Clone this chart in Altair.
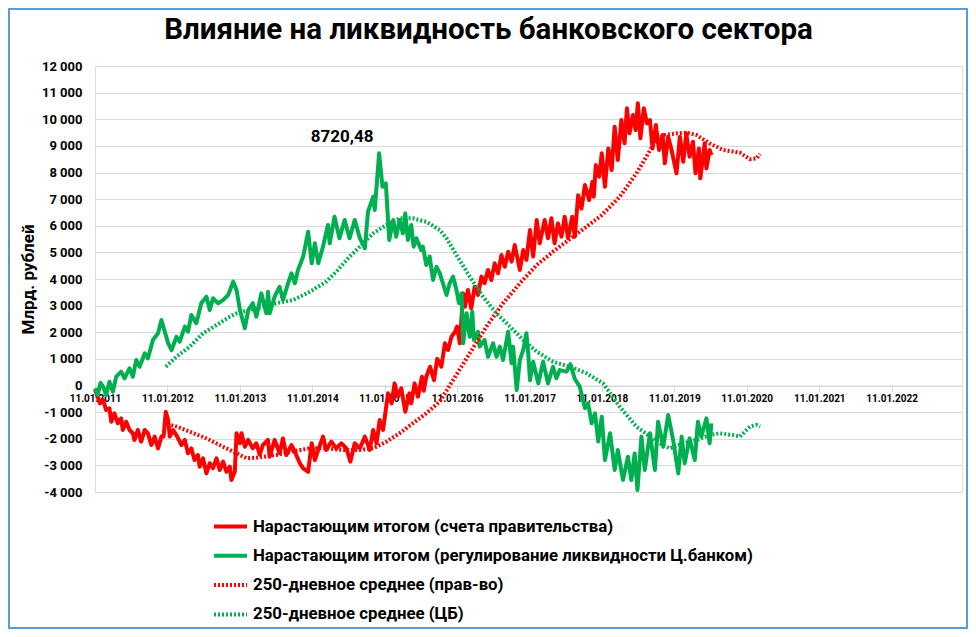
import altair as alt
import pandas as pd

FONT = "Roboto"

SERIES = [
    "Нарастающим итогом (счета правительства)",
    "Нарастающим итогом (регулирование ликвидности Ц.банком)",
    "250-дневное среднее (прав-во)",
    "250-дневное среднее (ЦБ)",
]
COLORS = ["#FF0000", "#00B050", "#FF0000", "#00B050"]
DASHES = [[1, 0], [1, 0], [2, 2], [2, 2]]
WIDTHS = [4, 4, 1.6, 1.6]

# --- Government accounts, cumulative (bn rub) ---
gov_dates = [
    "2011-01-11", "2011-02-05", "2011-02-21", "2011-03-08", "2011-03-25", "2011-04-03", "2011-04-19",
    "2011-05-06", "2011-05-23", "2011-05-31", "2011-06-17", "2011-07-04", "2011-07-21", "2011-07-29",
    "2011-08-15", "2011-09-01", "2011-09-19", "2011-10-05", "2011-10-22", "2011-11-08", "2011-11-25",
    "2011-12-12", "2011-12-23", "2012-01-03", "2012-01-15", "2012-01-23", "2012-02-09", "2012-03-01",
    "2012-03-22", "2012-04-08", "2012-04-24", "2012-05-11", "2012-05-27", "2012-06-13", "2012-06-22",
    "2012-07-09", "2012-07-26", "2012-08-12", "2012-08-28", "2012-09-15", "2012-10-01", "2012-10-18",
    "2012-11-04", "2012-11-21", "2012-11-29", "2012-12-16", "2012-12-25", "2013-01-11", "2013-01-19",
    "2013-02-05", "2013-02-22", "2013-03-17", "2013-04-04", "2013-04-21", "2013-05-07", "2013-05-15",
    "2013-06-01", "2013-06-10", "2013-07-05", "2013-07-30", "2013-08-16", "2013-09-02", "2013-09-28",
    "2013-10-15", "2013-11-09", "2013-11-26", "2013-12-21", "2014-01-08", "2014-01-24", "2014-02-10",
    "2014-03-06", "2014-03-22", "2014-04-17", "2014-05-12", "2014-06-07", "2014-07-02", "2014-07-22",
    "2014-08-13", "2014-09-08", "2014-10-03", "2014-10-28", "2014-11-14", "2014-12-01", "2014-12-17",
    "2015-01-03", "2015-01-28", "2015-02-15", "2015-03-02", "2015-03-19", "2015-04-05", "2015-04-25",
    "2015-05-16", "2015-05-25", "2015-06-11", "2015-06-28", "2015-07-18", "2015-07-27", "2015-08-09",
    "2015-08-28", "2015-09-17", "2015-10-03", "2015-10-24", "2015-11-11", "2015-11-27", "2015-12-14",
    "2016-01-01", "2016-01-11", "2016-01-25", "2016-02-03", "2016-02-11", "2016-02-20", "2016-03-06",
    "2016-03-23", "2016-04-09", "2016-04-26", "2016-05-13", "2016-05-29", "2016-06-15", "2016-07-02",
    "2016-07-19", "2016-08-05", "2016-08-22", "2016-09-08", "2016-09-25", "2016-10-12", "2016-10-28",
    "2016-11-23", "2016-12-10", "2016-12-26", "2017-01-13", "2017-01-29", "2017-02-16", "2017-03-03",
    "2017-03-28", "2017-04-14", "2017-05-01", "2017-05-17", "2017-06-03", "2017-06-21", "2017-07-07",
    "2017-07-24", "2017-08-14", "2017-08-27", "2017-09-13", "2017-09-30", "2017-10-17", "2017-11-07",
    "2017-11-24", "2017-12-01", "2017-12-11", "2017-12-28", "2018-01-10", "2018-01-26", "2018-02-12",
    "2018-03-01", "2018-03-16", "2018-04-01", "2018-04-19", "2018-05-05", "2018-05-17", "2018-05-30",
    "2018-06-16", "2018-06-30", "2018-07-11", "2018-07-24", "2018-08-10", "2018-08-26", "2018-09-10",
    "2018-09-23", "2018-10-10", "2018-10-26", "2018-11-13", "2018-11-24", "2018-12-11", "2018-12-28",
    "2019-01-22", "2019-02-08", "2019-02-25", "2019-03-12", "2019-03-29", "2019-04-15", "2019-04-28",
    "2019-05-15", "2019-05-22", "2019-06-13", "2019-06-22", "2019-07-08", "2019-07-17",
]
gov_values = [
    -150, -670, -545, -920, -860, -1360, -1045,
    -1420, -1235, -1670, -1360, -1670, -1795, -2045,
    -1670, -2110, -1670, -1795, -2235, -1920, -2360,
    -1920, -1920, -985, -1295, -1920, -1670, -1920,
    -2235, -2045, -2545, -2360, -2800, -2610, -3050,
    -2735, -3300, -2920, -3110, -2735, -3175, -2860,
    -3240, -3050, -3550, -3240, -1795, -2170, -1795,
    -2300, -2045, -2360, -2170, -2600, -2235, -2170,
    -2045, -2675, -2045, -2545, -1985, -2610, -2235,
    -2485, -2920, -3110, -3240, -2170, -2800, -2420,
    -1920, -2420, -2110, -2360, -2170, -2360, -2860,
    -2170, -2360, -1920, -2420, -1670, -2170, -1295,
    -1670, -295, -670, 80, -420, -105, -985,
    -295, -670, 80, -420, 330, -200, 330,
    705, 200, 1000, 705, 1585, 1335, 1830,
    2020, 2210, 1585, 2585, 3460, 2960, 3590,
    2900, 3710, 3400, 4090, 3840, 4340, 3960,
    4590, 4215, 4900, 4460, 5025, 4650, 5275,
    4340, 5090, 4715, 5840, 4840, 6215, 5340,
    6215, 5530, 6280, 5340, 6090, 5590, 6340,
    5530, 6340, 5590, 7150, 6650, 7530, 6965,
    7650, 7090, 8280, 7840, 8720, 7465, 8905,
    8090, 9720, 8465, 9970, 9095, 10410, 9470,
    10160, 9595, 10600, 9285, 10410, 9845, 9970,
    8905, 9785, 8845, 9410, 8345, 9345, 8845,
    7970, 9345, 8405, 9470, 8590, 9155, 7970,
    8905, 7780, 9095, 8155, 8845, 8655,
]

# --- Central bank liquidity operations, cumulative (bn rub) ---
cb_dates = [
    "2011-01-11", "2011-01-25", "2011-02-08", "2011-02-21", "2011-03-08", "2011-03-25", "2011-04-11",
    "2011-04-28", "2011-05-23", "2011-06-09", "2011-07-04", "2011-07-21", "2011-08-07", "2011-08-24",
    "2011-09-19", "2011-10-05", "2011-10-30", "2011-11-25", "2011-12-12", "2012-01-15", "2012-02-01",
    "2012-02-26", "2012-03-13", "2012-04-08", "2012-04-24", "2012-05-11", "2012-06-05", "2012-06-30",
    "2012-07-26", "2012-08-12", "2012-08-28", "2012-09-23", "2012-10-18", "2012-11-13", "2012-12-08",
    "2012-12-25", "2013-01-11", "2013-02-05", "2013-02-22", "2013-03-17", "2013-04-04", "2013-04-29",
    "2013-05-24", "2013-06-02", "2013-06-10", "2013-07-05", "2013-07-30", "2013-08-16", "2013-09-11",
    "2013-09-28", "2013-10-15", "2013-10-31", "2013-11-26", "2013-12-21", "2014-01-08", "2014-01-24",
    "2014-02-10", "2014-03-06", "2014-03-31", "2014-04-09", "2014-05-03", "2014-05-28", "2014-06-23",
    "2014-07-18", "2014-08-13", "2014-09-08", "2014-10-03", "2014-10-19", "2014-11-14", "2014-11-22",
    "2014-12-14", "2014-12-31", "2015-01-17", "2015-02-03", "2015-02-23", "2015-03-10", "2015-03-27",
    "2015-04-13", "2015-04-25", "2015-05-08", "2015-05-25", "2015-06-06", "2015-06-20", "2015-07-14",
    "2015-07-23", "2015-08-09", "2015-08-26", "2015-09-12", "2015-09-29", "2015-10-16", "2015-11-01",
    "2015-11-19", "2015-12-05", "2015-12-22", "2016-01-08", "2016-01-21", "2016-02-03", "2016-02-11",
    "2016-02-28", "2016-03-15", "2016-03-28", "2016-04-05", "2016-04-26", "2016-05-04", "2016-05-29",
    "2016-06-15", "2016-07-11", "2016-07-28", "2016-08-14", "2016-08-30", "2016-09-25", "2016-10-12",
    "2016-10-20", "2016-11-07", "2016-11-23", "2016-12-10", "2016-12-26", "2017-01-04", "2017-01-13",
    "2017-01-29", "2017-02-24", "2017-03-20", "2017-04-14", "2017-05-09", "2017-05-26", "2017-06-12",
    "2017-07-16", "2017-08-05", "2017-08-27", "2017-09-21", "2017-10-17", "2017-11-02", "2017-11-20",
    "2017-12-07", "2017-12-23", "2018-01-10", "2018-01-26", "2018-02-21", "2018-03-16", "2018-04-01",
    "2018-04-27", "2018-05-22", "2018-06-08", "2018-06-25", "2018-07-09", "2018-07-29", "2018-08-15",
    "2018-09-10", "2018-10-05", "2018-10-21", "2018-11-16", "2018-12-11", "2019-01-05", "2019-01-31",
    "2019-02-17", "2019-03-04", "2019-03-29", "2019-04-24", "2019-05-10", "2019-05-27", "2019-06-22",
    "2019-07-08", "2019-07-17",
]
cb_values = [
    -100, -350, 100, -40, -360, 140, -230,
    330, 520, 270, 645, 330, 960, 705,
    1210, 1020, 1710, 1960, 2460, 1585, 1330,
    1830, 1645, 2210, 2020, 2650, 2335, 3090,
    3335, 2835, 3275, 3090, 3210, 3400, 3900,
    3590, 2835, 2150, 2835, 3090, 2585, 3460,
    2710, 3520, 2710, 3335, 3710, 3210, 3840,
    4215, 3840, 4340, 4840, 5775, 4590, 5340,
    4590, 5215, 6030, 5340, 6340, 5530, 6215,
    5530, 6215, 5530, 5155, 6530, 7090, 6590,
    8720, 7465, 7590, 5465, 6215, 5590, 6215,
    5715, 6465, 5465, 6030, 5215, 5530, 5090,
    5215, 4525, 4840, 3960, 4460, 4215, 3840,
    3400, 3840, 4090, 3590, 3090, 3460, 1585,
    2710, 1830, 2770, 1710, 2020, 1460, 1710,
    1080, 1585, 1080, 1460, 960, 2020, 835,
    1460, -170, 960, 1335, 1960, 1210, 200,
    895, 80, 895, 80, 705, 270, 580,
    520, 800, 250, -45, -850, -670, -1420,
    -1045, -2100, -1170, -2800, -1795, -3175, -2420,
    -3550, -2675, -3550, -2550, -3925, -1920, -3175,
    -1795, -3175, -1360, -2300, -1110, -2045, -3300,
    -1920, -2920, -1985, -2800, -1360, -1920, -1235,
    -2170, -1420,
]

# --- 250-day moving average, government ---
gov_ma_dates = [
    "2012-01-11", "2012-03-01", "2012-05-03", "2012-07-26", "2012-10-18", "2012-12-25", "2013-02-14",
    "2013-04-21", "2013-07-14", "2013-10-06", "2013-12-30", "2014-03-22", "2014-06-14", "2014-09-08",
    "2014-11-14", "2015-01-20", "2015-03-27", "2015-06-02", "2015-08-09", "2015-10-16", "2015-12-22",
    "2016-03-15", "2016-06-07", "2016-08-30", "2016-11-23", "2017-02-16", "2017-05-09", "2017-08-02",
    "2017-10-25", "2018-01-10", "2018-04-11", "2018-07-04", "2018-08-23", "2018-09-26", "2018-11-16",
    "2019-01-22", "2019-03-12", "2019-05-02", "2019-07-08", "2019-09-14", "2019-12-08", "2020-01-27",
    "2020-03-01", "2020-03-18",
]
gov_ma_values = [
    -1450, -1545, -1735, -1985, -2300, -2545, -2735,
    -2700, -2610, -2470, -2360, -2360, -2420, -2420,
    -2360, -2110, -1795, -1420, -1045, -600, 200,
    1210, 2210, 3090, 3840, 4525, 5025, 5500,
    5965, 6400, 7090, 7970, 8590, 9030, 9410,
    9470, 9495, 9410, 9095, 8845, 8745, 8500,
    8530, 8700,
]

# --- 250-day moving average, central bank ---
cb_ma_dates = [
    "2012-01-03", "2012-02-26", "2012-05-03", "2012-07-09", "2012-09-15", "2012-11-21", "2012-12-25",
    "2013-04-04", "2013-07-14", "2013-10-06", "2013-12-30", "2014-03-22", "2014-05-12", "2014-07-18",
    "2014-09-08", "2014-11-14", "2015-01-20", "2015-03-27", "2015-06-02", "2015-08-09", "2015-10-16",
    "2015-11-19", "2016-01-08", "2016-03-15", "2016-05-21", "2016-07-28", "2016-10-04", "2016-12-10",
    "2017-02-16", "2017-05-09", "2017-08-02", "2017-10-25", "2018-01-17", "2018-04-11", "2018-07-04",
    "2018-09-10", "2018-10-30", "2018-12-19", "2019-02-25", "2019-05-02", "2019-07-08", "2019-08-28",
    "2019-11-03", "2019-12-08", "2020-01-27", "2020-03-01", "2020-03-18",
]
cb_ma_values = [
    705, 1080, 1460, 1960, 2270, 2585, 2710,
    2900, 3090, 3210, 3520, 3900, 4275, 4840,
    5215, 5715, 6030, 6280, 6280, 6150, 5840,
    5530, 4900, 4090, 3335, 2710, 2210, 1710,
    1270, 895, 705, 460, 80, -800, -1545,
    -1920, -2170, -2360, -2170, -2045, -1860, -1795,
    -1860, -1920, -1545, -1480, -1550,
]

peak_date = ["2014-12-14"]
peak_value = [8720.48]
peak_label = ["8720,48"]

frames = []
for name, d, v in [
    (SERIES[0], gov_dates, gov_values),
    (SERIES[1], cb_dates, cb_values),
    (SERIES[2], gov_ma_dates, gov_ma_values),
    (SERIES[3], cb_ma_dates, cb_ma_values),
]:
    frames.append(pd.DataFrame({"date": d, "value": v, "series": name}))
df = pd.concat(frames, ignore_index=True)

legend = alt.Legend(
    orient="none", legendX=117, legendY=442, direction="vertical", title=None,
    labelFont=FONT, labelFontSize=16.8, labelFontWeight="bold", labelColor="#000000",
    symbolType="stroke", symbolSize=1089, rowPadding=1.3, labelOffset=4, labelLimit=0,
    padding=0,
)

x_enc = alt.X(
    "date:T",
    scale=alt.Scale(domain=[alt.DateTime(year=2011, month=1, date=11),
                            alt.DateTime(year=2023, month=1, date=1)]),
    axis=alt.Axis(
        orient="bottom", offset=-106.5,
        values=[alt.DateTime(year=y, month=1, date=11) for y in range(2011, 2023)],
        format="%d.%m.%Y", labelFont=FONT, labelFontSize=10, labelFontWeight="bold",
        labelColor="#000000", tickSize=6, tickColor="#D9D9D9", domainColor="#D9D9D9",
        grid=False, labelPadding=2, labelFlush=False, labelOverlap=False, title=None,
    ),
)
y_enc = alt.Y(
    "value:Q",
    scale=alt.Scale(domain=[-4000, 12000], nice=False, zero=False),
    axis=alt.Axis(
        values=list(range(-4000, 12001, 1000)),
        labelExpr="replace(replace(format(datum.value, ','), ',', ' '), '\u2212', '-')",
        labelOverlap=False, labelFlush=False,
        domain=False, ticks=False, gridColor="#D9D9D9", gridWidth=1,
        labelFont=FONT, labelFontSize=13, labelFontWeight="bold", labelColor="#000000",
        labelPadding=13, title="Млрд. рублей", titleFont=FONT, titleFontSize=17,
        titleFontWeight="bold", titleColor="#000000", titleX=-67, titleY=213,
        titleAngle=270, titleAlign="center", titleBaseline="middle",
    ),
)

lines = alt.Chart(df).mark_line(strokeCap="butt", strokeJoin="round").encode(
    x=x_enc,
    y=y_enc,
    color=alt.Color("series:N", scale=alt.Scale(domain=SERIES, range=COLORS), legend=legend),
    strokeDash=alt.StrokeDash("series:N", scale=alt.Scale(domain=SERIES, range=DASHES), legend=legend),
    strokeWidth=alt.StrokeWidth("series:N", scale=alt.Scale(domain=SERIES, range=WIDTHS), legend=legend),
    detail="series:N",
)

ann_df = pd.DataFrame({"date": peak_date, "value": peak_value, "label": peak_label})
annotation = alt.Chart(ann_df).mark_text(
    font=FONT, fontSize=17, fontWeight="bold", color="#000000", dx=-37, dy=-16
).encode(x=x_enc, y=y_enc, text="label:N")

border = alt.Chart(pd.DataFrame({"k": [0]})).mark_rect(
    fillOpacity=0, stroke="#5B9BD5", strokeWidth=2
).encode(x=alt.value(-86), x2=alt.value(872), y=alt.value(-57), y2=alt.value(562))

chart = alt.layer(lines, annotation, border).properties(
    width=867, height=426,
    title=alt.TitleParams(
        "Влияние на ликвидность банковского сектора", font=FONT, fontSize=29.5,
        fontWeight="bold", color="#000000", anchor="middle", frame="group", dx=-40,
        offset=-60, baseline="alphabetic",
    ),
    autosize=alt.AutoSizeParams(type="none"),
    padding={"left": 87, "top": 58, "right": 6, "bottom": 137},
).configure_view(stroke=None).configure(background="#FFFFFF")

chart.save("out.html", embed_options={"renderer": "svg", "actions": False})
